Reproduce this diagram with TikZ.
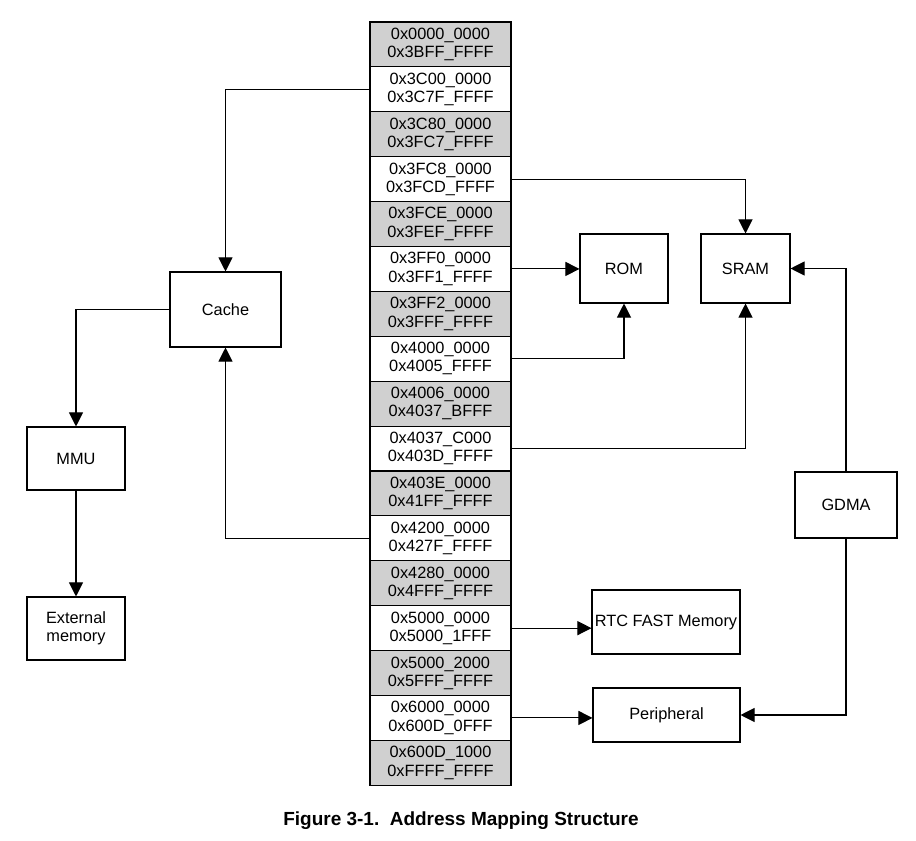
\documentclass[tikz,border=0pt]{standalone}
\usepackage{fontspec}
\setmainfont{Liberation Sans}
\usetikzlibrary{arrows.meta}
\definecolor{rowgray}{HTML}{D0D0D0}
\tikzset{
  box/.style={draw, line width=0.6pt, align=center, inner sep=0pt, font=\fontsize{9.3}{10.4}\selectfont},
  row/.style={box, minimum width=141*0.02cm, minimum height=44.9*0.02cm},
  conn/.style={line width=0.6pt, -{Triangle[length=8pt, width=8pt]}},
}
\begin{document}
\begin{tikzpicture}[x=0.02cm, y=-0.02cm]
\useasboundingbox (0,0) rectangle (916,841);

%address column
\foreach \n/\a/\b [count=\i] in {
  1/0x0000\_0000/0x3BFF\_FFFF, 2/0x3C00\_0000/0x3C7F\_FFFF, 3/0x3C80\_0000/0x3FC7\_FFFF,
  4/0x3FC8\_0000/0x3FCD\_FFFF, 5/0x3FCE\_0000/0x3FEF\_FFFF, 6/0x3FF0\_0000/0x3FF1\_FFFF,
  7/0x3FF2\_0000/0x3FFF\_FFFF, 8/0x4000\_0000/0x4005\_FFFF, 9/0x4006\_0000/0x4037\_BFFF,
  10/0x4037\_C000/0x403D\_FFFF, 11/0x403E\_0000/0x41FF\_FFFF, 12/0x4200\_0000/0x427F\_FFFF,
  13/0x4280\_0000/0x4FFF\_FFFF, 14/0x5000\_0000/0x5000\_1FFF, 15/0x5000\_2000/0x5FFF\_FFFF,
  16/0x6000\_0000/0x600D\_0FFF, 17/0x600D\_1000/0xFFFF\_FFFF}
{
  \pgfmathsetmacro{\shade}{isodd(\i) ? 1 : 0}
  \ifnum\shade=1
    \node[row, fill=rowgray] (r\n) at (440.5, {22+44.9*(\i-0.5)}) {\a\\\b};
  \else
    \node[row, fill=white] (r\n) at (440.5, {22+44.9*(\i-0.5)}) {\a\\\b};
  \fi
}

%Speicherblöcke
\node[box, minimum width=111*0.02cm, minimum height=75*0.02cm] (cache) at (225.5,309.5) {Cache};
\node[box, minimum width=98*0.02cm, minimum height=63*0.02cm] (mmu) at (76,458.5) {MMU};
\node[box, minimum width=98*0.02cm, minimum height=63*0.02cm] (ext) at (76,628.5) {External\\memory};
\node[box, minimum width=88*0.02cm, minimum height=69*0.02cm] (rom) at (624,268.5) {ROM};
\node[box, minimum width=89*0.02cm, minimum height=69*0.02cm] (sram) at (745.5,268.5) {SRAM};
\node[box, minimum width=102*0.02cm, minimum height=66*0.02cm] (gdma) at (846,505) {GDMA};
\node[box, minimum width=148*0.02cm, minimum height=64*0.02cm] (rtc) at (666,622) {RTC FAST Memory};
\node[box, minimum width=147*0.02cm, minimum height=54*0.02cm] (peri) at (666.5,715) {Peripheral};

%Verbindungen
\draw[conn] (r2.west) -| (cache.north);
\draw[conn] (r12.west) -| (cache.south);
\draw[conn] (cache.west) -| (mmu.north);
\draw[conn] (mmu) -- (ext);
\draw[conn] (r4.east) -| (sram.north);
\draw[conn] (r6.east) -- (r6.east -| rom.west);
\draw[conn] (r8.east) -| (rom.south);
\draw[conn] (r10.east) -| (sram.south);
\draw[conn] (gdma.north) |- (sram.east);
\draw[conn] (gdma.south) |- (peri.east);
\draw[conn] (r14.east) -- (r14.east -| rtc.west);
\draw[conn] (r16.east) -- (r16.east -| peri.west);

\node[font=\bfseries\fontsize{10.8}{12}\selectfont] (caption) at (461,821) {Figure 3-1.\ \ Address Mapping Structure};
\end{tikzpicture}
\end{document}
